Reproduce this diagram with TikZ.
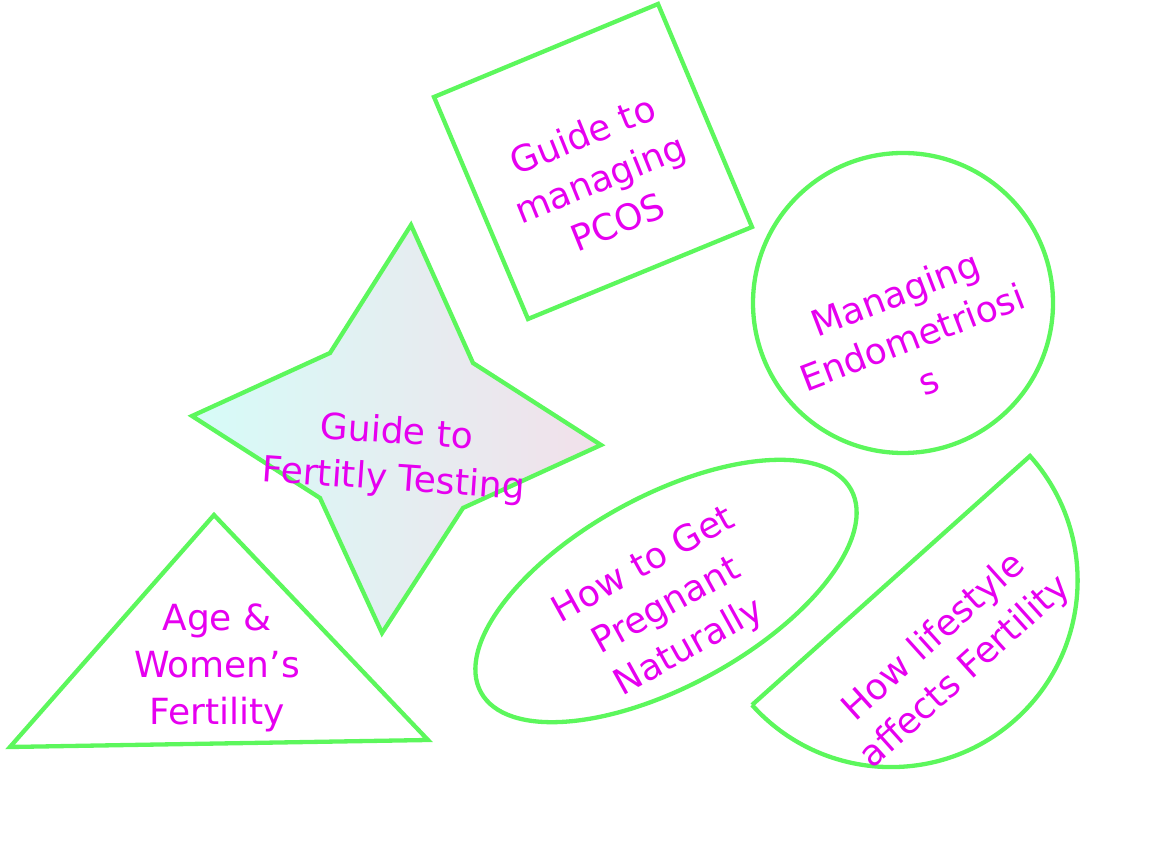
\documentclass[tikz,border=0pt]{standalone}
\usepackage{fontspec}
\setmainfont{DejaVu Sans}
\usepackage{tikz}
\definecolor{leaf}{HTML}{5CF75C}
\definecolor{pinkv}{HTML}{E600F0}
\definecolor{starl}{HTML}{D6FCF8}
\definecolor{starm}{HTML}{DCE6F6}
\definecolor{starr}{HTML}{F2E0EA}

\begin{document}
\begin{tikzpicture}[x=1pt,y=1pt,
    outline/.style={draw=leaf,line width=4.3pt},
    lbl/.style={text=pinkv,align=center,inner sep=0pt,font=\fontsize{36}{47}\selectfont}]
            \useasboundingbox (0,0) rectangle (1158,848);
            \draw[outline] (434,751) -- (658,844) -- (752,621) -- (528,529) -- cycle;
            \draw[outline] (903,545) circle (150);
            \draw[outline,left color=starl,middle color=starm,right color=starr] (411,623) -- (473,485) -- (601,403) -- (463,340)
            	-- (382,215) -- (320,350) -- (192,432) -- (330,495) -- cycle;
            \draw[outline] (10,101) -- (214,333) -- (428,108) -- cycle;
            \draw[outline,rotate around={28.7:(666,257)}] (666,257) ellipse (211 and 95);
            \draw[outline] (752,143) -- (1030,392) arc (41.85:-138.15:186.6);
            \node [lbl,rotate=22] (pcos) at (600,670) {Guide to\\managing\\PCOS};
            \node [lbl,rotate=21] (endo) at (912,511) {Managing\\Endometriosi\\s};
            \node [lbl,rotate=-4] (test) at (395,391) {Guide to\\Fertitly Testing};
            \node [lbl] (age) at (217,180) {Age \&\\Women’s\\Fertility};
            \node [lbl,rotate=29] (preg) at (667,241) {How to Get\\Pregnant\\Naturally};
            \node [lbl,rotate=42] (life) at (950,193) {How lifestyle\\affects Fertility};
\end{tikzpicture}
\end{document}
